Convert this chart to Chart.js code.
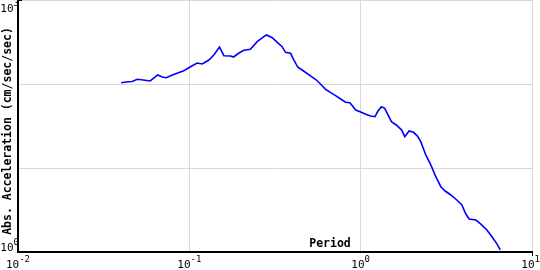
<!DOCTYPE html>
<html>
<head>
<meta charset="utf-8">
<script src="https://cdn.jsdelivr.net/npm/chart.js@4"></script>
<style>
html, body { margin: 0; padding: 0; background: #fff; }
</style>
</head>
<body>
<canvas id="myChart" width="540" height="270"></canvas>
<script>
// period (sec) and absolute acceleration (cm/sec/sec)
const periods = [0.0400, 0.0440, 0.0464, 0.0497, 0.0538, 0.0591, 0.0654, 0.0695, 0.0734, 0.0796,
    0.0862, 0.0929, 0.101, 0.111, 0.119, 0.130, 0.139, 0.150, 0.159, 0.174,
    0.181, 0.194, 0.208, 0.227, 0.249, 0.272, 0.282, 0.305, 0.326, 0.348,
    0.364, 0.390, 0.407, 0.430, 0.464, 0.507, 0.545, 0.583, 0.624, 0.668,
    0.714, 0.764, 0.817, 0.866, 0.935, 1.00, 1.07, 1.144, 1.212, 1.262,
    1.322, 1.382, 1.444, 1.512, 1.613, 1.737, 1.808, 1.917, 2.033, 2.146,
    2.243, 2.399, 2.567, 2.746, 2.937, 3.112, 3.360, 3.642, 3.896, 4.111,
    4.299, 4.704, 5.031, 5.455, 5.836, 6.242, 6.525]
const accel = [103.6, 106.5, 107.1, 113.8, 111.6, 108.6, 128.0, 121.2, 118.9, 128.0,
    136.3, 144.0, 159.4, 177.8, 173.0, 193.1, 221.4, 275.7, 217.2, 215.4,
    209.6, 232.1, 251.9, 258.9, 318.8, 365.7, 383.1, 355.8, 313.6, 278.0,
    238.5, 232.1, 193.1, 158.1, 142.8, 125.6, 113.8, 100.0, 86.5, 78.8,
    72.6, 66.3, 60.6, 59.9, 49.0, 46.4, 43.6, 41.6, 40.8, 47.7,
    53.7, 51.4, 42.8, 35.6, 32.5, 28.3, 23.6, 27.6, 26.6, 24.0,
    20.6, 14.3, 10.9, 7.88, 5.99, 5.32, 4.77, 4.16, 3.63, 2.83,
    2.47, 2.40, 2.15, 1.83, 1.52, 1.25, 1.06]

const xTicks = [0.01, 0.1, 1, 10]
const xTickExp = ['-2', '-1', '0', '1']
const yTicks = [1, 10, 100, 1000]
const yLabelTicks = [1, 1000]
const yLabelExp = ['0', '3']

const xTitle = 'Period'
const yTitle = 'Abs. Acceleration (cm/sec/sec)'

const points = periods.map((p, i) => ({ x: p, y: accel[i] }))

const baseFont = '"DejaVu Sans Mono", "Liberation Mono", monospace'

function drawPow(ctx, x, base, exp, align) {
    ctx.font = '11px ' + baseFont
    const w1 = ctx.measureText('10').width
    ctx.font = '9px ' + baseFont
    const w2 = ctx.measureText(exp).width
    let left = align === 'center' ? x - (w1 + w2) / 2 : x - (w1 + w2)
    if (left < 0) left = 0
    if (left + w1 + w2 > 540) left = 540 - w1 - w2
    ctx.font = '11px ' + baseFont
    ctx.fillText('10', left, base)
    ctx.font = '9px ' + baseFont
    ctx.fillText(exp, left + w1, base - 6)
}

const labelsPlugin = {
    id: 'labels',
    afterDraw(chart) {
        const ctx = chart.ctx
        const xs = chart.scales.x
        const ys = chart.scales.y
        const area = chart.chartArea
        ctx.save()
        ctx.fillStyle = '#000'
        ctx.textAlign = 'left'
        ctx.textBaseline = 'alphabetic'

        xTicks.forEach((v, i) => {
            drawPow(ctx, xs.getPixelForValue(v), 268, xTickExp[i], 'center')
        })
        yLabelTicks.forEach((v, i) => {
            const py = ys.getPixelForValue(v)
            const base = Math.min(Math.max(py + 4, 12), 251)
            drawPow(ctx, area.left + 1, base, yLabelExp[i], 'right')
        })

        // small end ticks
        ctx.strokeStyle = '#000'
        ctx.lineWidth = 1
        ctx.beginPath()
        ctx.moveTo(area.left, 0.5)
        ctx.lineTo(area.left + 4, 0.5)
        ctx.moveTo(area.right + 0.5, area.bottom)
        ctx.lineTo(area.right + 0.5, area.bottom + 4)
        ctx.stroke()

        // axis titles
        ctx.font = 'bold 11.5px ' + baseFont
        ctx.textAlign = 'center'
        ctx.fillText(xTitle, 330, 247)
        ctx.translate(8, 131)
        ctx.rotate(-Math.PI / 2)
        ctx.textBaseline = 'middle'
        ctx.fillText(yTitle, 0, 0)
        ctx.restore()
    }
}

const ctx = document.getElementById('myChart')
const myChart = new Chart(ctx, {
    type: 'line',
    data: {
        datasets: [{
            data: points,
            borderColor: '#0000ff',
            borderWidth: 1.6,
            pointRadius: 0,
            tension: 0,
            fill: false
        }]
    },
    options: {
        responsive: false,
        animation: false,
        devicePixelRatio: 1,
        layout: { padding: { left: 18, right: 8, top: 0, bottom: 18 } },
        plugins: {
            legend: { display: false },
            tooltip: { enabled: false }
        },
        scales: {
            x: {
                type: 'logarithmic',
                min: 0.01,
                max: 10,
                afterBuildTicks: (s) => { s.ticks = xTicks.map(v => ({ value: v })) },
                afterFit: (s) => { s.height = 0 },
                ticks: { display: false },
                grid: { color: '#d9d9d9', lineWidth: 1, drawTicks: false },
                border: { color: '#000', width: 2 }
            },
            y: {
                type: 'logarithmic',
                min: 1,
                max: 1000,
                afterBuildTicks: (s) => { s.ticks = yTicks.map(v => ({ value: v })) },
                afterFit: (s) => { s.width = 0 },
                ticks: { display: false },
                grid: { color: '#d9d9d9', lineWidth: 1, drawTicks: false },
                border: { color: '#000', width: 2 }
            }
        }
    },
    plugins: [labelsPlugin]
})
</script>
</body>
</html>
